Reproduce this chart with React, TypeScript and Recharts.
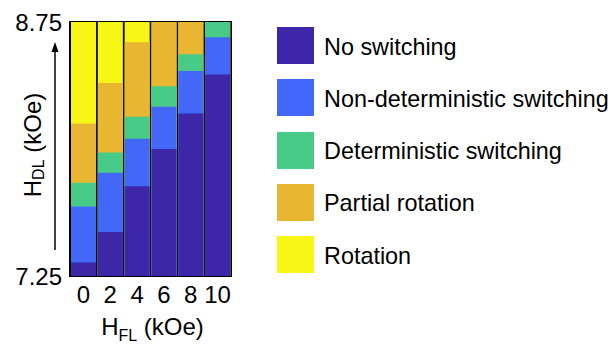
import { BarChart, Bar, XAxis, YAxis, CartesianGrid, ReferenceArea } from 'recharts';

// H_FL categories (kOe)
const fieldFL = ['0', '2', '4', '6', '8', '10'];
// upper H_DL boundary (kOe) of each regime, per H_FL
const noSwitchingTop = [7.33, 7.51, 7.78, 8.0, 8.21, 8.44];
const nonDetTop = [7.66, 7.86, 8.06, 8.25, 8.46, 8.66];
const detTop = [7.8, 7.98, 8.19, 8.37, 8.56, 8.75];
const partialTop = [8.15, 8.39, 8.63, 8.75, 8.75, 8.75];
const rotationTop = [8.75, 8.75, 8.75, 8.75, 8.75, 8.75];
const yTicks = [7.25, 8.75];

const regimes = [
  { key: 'noSwitching', name: 'No switching', color: '#3d26a8' },
  { key: 'nonDet', name: 'Non-deterministic switching', color: '#4368f8' },
  { key: 'det', name: 'Deterministic switching', color: '#48cb86' },
  { key: 'partial', name: 'Partial rotation', color: '#e9b631' },
  { key: 'rotation', name: 'Rotation', color: '#f7f614' },
];

const data = fieldFL.map((f, i) => ({
  f,
  noSwitching: noSwitchingTop[i],
  nonDet: nonDetTop[i],
  det: detTop[i],
  partial: partialTop[i],
  rotation: rotationTop[i],
}));

const FONT = '"Liberation Sans", Arial, sans-serif';

const YLabel = (props: any) => {
  const { viewBox } = props;
  const cx = 32;
  const cy = viewBox.y + 123;
  const ax = 55;
  return (
    <g>
      <text x={cx} y={cy} transform={`rotate(-90 ${cx} ${cy})`} textAnchor="middle" dominantBaseline="central" fontSize={24} fill="#000" fontFamily={FONT}>
        H<tspan fontSize={16} dy={6}>DL</tspan><tspan dy={-6}> (kOe)</tspan>
      </text>
      <line x1={ax} y1={250} x2={ax} y2={50} stroke="#000" strokeWidth={1.5} />
      <polygon points={`${ax},42 ${ax - 3.5},52 ${ax + 3.5},52`} fill="#000" />
    </g>
  );
};

const XLabel = (props: any) => {
  const { viewBox } = props;
  const cx = viewBox.x + viewBox.width / 2 + 2;
  return (
    <text x={cx} y={viewBox.y + 59} textAnchor="middle" fontSize={24} fill="#000" fontFamily={FONT}>
      H<tspan fontSize={16} dy={6}>FL</tspan><tspan dy={-6}> (kOe)</tspan>
    </text>
  );
};

export default function App() {
  // draw from the top regime down so lower regimes paint over
  const order = [...regimes].reverse();
  return (
    <div style={{ position: 'absolute', left: 0, top: 0, width: 616, height: 349, background: '#fff', fontFamily: FONT }}>
      <BarChart width={616} height={349} data={data} margin={{ top: 22, right: 385, bottom: 0, left: 0 }} barCategoryGap={1}>
        <CartesianGrid fill="#111" horizontal={false} vertical={false} />
        {order.map((r, i) => (
          <XAxis
            key={r.key}
            xAxisId={i === 0 ? 0 : i}
            dataKey="f"
            hide={i !== 0}
            height={73}
            tick={{ fill: '#000', fontSize: 24, fontFamily: FONT }}
            tickLine={false}
            axisLine={false}
            tickMargin={4}
            interval={0}
            label={i === 0 ? <XLabel /> : undefined}
          />
        ))}
        <YAxis
          type="number"
          domain={[7.25, 8.75]}
          ticks={yTicks}
          allowDataOverflow
          width={70}
          tick={{ fill: '#000', fontSize: 24, fontFamily: FONT }}
          tickFormatter={(v: number) => v.toFixed(2)}
          tickLine={false}
          axisLine={false}
          label={<YLabel />}
        />
        {order.map((r, i) => (
          <Bar key={r.key} xAxisId={i === 0 ? 0 : i} dataKey={r.key} name={r.name} fill={r.color} isAnimationActive={false} />
        ))}
        <ReferenceArea xAxisId={0} y1={7.25} y2={8.75} fill="none" stroke="#000" strokeWidth={2} ifOverflow="visible" />
      </BarChart>
      {regimes.map((r, i) => (
        <div key={r.key} style={{ position: 'absolute', left: 277, top: 27 + i * 52.3, height: 37, display: 'flex', alignItems: 'center' }}>
          <div style={{ width: 37, height: 37, background: r.color }} />
          <span style={{ marginLeft: 10, paddingTop: 3, fontSize: 23.4, color: '#000', whiteSpace: 'nowrap' }}>{r.name}</span>
        </div>
      ))}
    </div>
  );
}
